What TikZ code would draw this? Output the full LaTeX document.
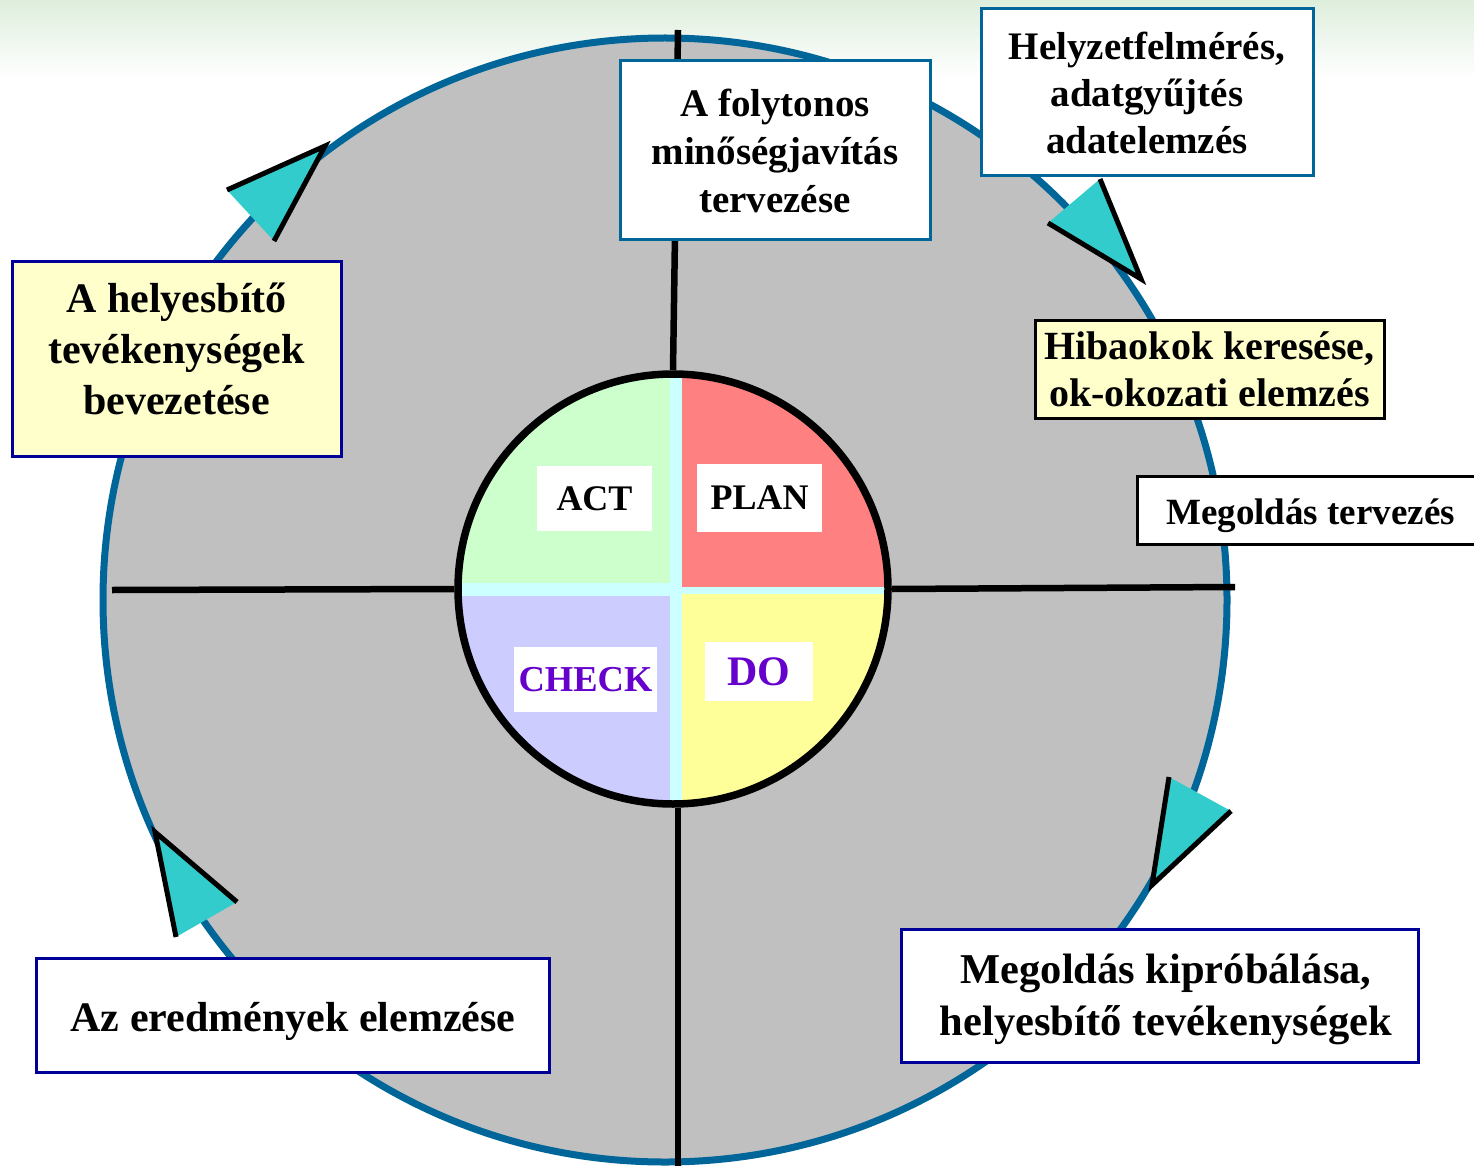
\documentclass[tikz,border=0pt]{standalone}
\usepackage{fontspec}
\setmainfont{Liberation Serif}
\definecolor{blueline}{RGB}{0,102,153}
\definecolor{navy}{RGB}{0,0,153}
\definecolor{trifill}{RGB}{51,204,204}
\definecolor{disc}{RGB}{192,192,192}
\definecolor{lyellow}{RGB}{255,255,204}
\definecolor{actc}{RGB}{204,255,204}
\definecolor{planc}{RGB}{255,128,128}
\definecolor{checkc}{RGB}{204,204,255}
\definecolor{doc}{RGB}{255,255,153}
\definecolor{gapc}{RGB}{204,255,255}
\definecolor{purp}{RGB}{102,0,204}
\definecolor{topgreen}{RGB}{222,238,220}
\begin{document}
\begin{tikzpicture}[x=1pt,y=-1pt,
  tbox/.style={draw, line width=3pt, inner sep=0pt, align=center},
  ttext/.style={inner sep=0pt, align=center},
  lbl/.style={fill=white, inner sep=0pt},
  tri/.style={fill=trifill},
  triedge/.style={draw=black, line width=5pt, line join=miter, line cap=butt},
  crossline/.style={draw=black, line width=6.5pt}]
\useasboundingbox (0,0) rectangle (1474,1166);
% faint green band at top
\shade[top color=topgreen, bottom color=white] (0,0) rectangle (1474,78);
% big disc
\filldraw[fill=disc, draw=blueline, line width=7pt] (665,600) circle[radius=562pt];
% inner PDCA fills
\begin{scope}
  \clip (673,589) circle[radius=213pt];
  \fill[gapc] (440,360) rectangle (910,820);
  \fill[actc] (440,360) rectangle (670,583);
  \fill[planc] (682,360) rectangle (910,587);
  \fill[checkc] (440,596) rectangle (670,820);
  \fill[doc] (682,594) rectangle (910,820);
\end{scope}
\node[circle, draw=black, line width=7.5pt, minimum size=430pt, inner sep=0pt] (pdca) at (673,589) {};
% cross line end points
\coordinate (ctop) at (678,30);
\coordinate (cbot) at (678,1175);
\coordinate (cleft) at (112,590);
\coordinate (cright) at (1235,587);
\draw[crossline] (ctop) -- (pdca.north);
\draw[crossline] (pdca.south -| cbot) -- (cbot);
\draw[crossline] (cleft) -- (pdca.west);
\draw[crossline] (pdca.east) -- (cright);
% quadrant labels
\node[lbl, minimum width=115pt, minimum height=65pt, font={\bfseries\fontsize{36}{40}\selectfont}] (act) at (594.5,498.5) {ACT};
\node[lbl, minimum width=125pt, minimum height=68pt, font={\bfseries\fontsize{36}{40}\selectfont}] (plan) at (759.5,498) {PLAN};
\node[lbl, minimum width=143pt, minimum height=65pt, text=purp, font={\bfseries\fontsize{36.5}{40}\selectfont}] (check) at (585.5,679.5) {CHECK};
\node[lbl, minimum width=108pt, minimum height=59pt, text=purp, font={\bfseries\fontsize{42}{44}\selectfont}] (do) at (759,671.5) {DO};
% arrow triangles
\fill[tri] (227,190) -- (325,146) -- (274,241) -- cycle;
\draw[triedge] (227,190) -- (325,146) -- (274,241);
\fill[tri] (1048,223) -- (1100,179) -- (1141,279) -- cycle;
\draw[triedge] (1100,179) -- (1141,279) -- (1048,223);
\fill[tri] (1169,777) -- (1231,811) -- (1152,885) -- cycle;
\draw[triedge] (1169,777) -- (1152,885) -- (1231,811);
\fill[tri] (155,832) -- (237,902) -- (176,937) -- cycle;
\draw[triedge] (237,902) -- (155,832) -- (176,937);
% text boxes
\node[tbox, draw=blueline, fill=white, minimum width=310pt, minimum height=179pt, font={\bfseries\fontsize{39}{48}\selectfont}] (b1) at (775,150.5) {A folytonos\\minőségjavítás\\tervezése};
\node[tbox, draw=blueline, fill=white, minimum width=332pt, minimum height=167pt, font={\bfseries\fontsize{39}{47}\selectfont}] (b2) at (1147,92.5) {Helyzetfelmérés,\\adatgyűjtés\\adatelemzés};
\node[tbox, draw=navy, fill=lyellow, minimum width=329pt, minimum height=194pt] (b3) at (176.5,359) {};
\node[ttext, font={\bfseries\fontsize{42}{51}\selectfont}] (b3t) at (176.5,349) {A helyesbítő\\tevékenységek\\bevezetése};
\node[tbox, draw=black, fill=lyellow, minimum width=349pt, minimum height=98pt, font={\bfseries\fontsize{40}{47}\selectfont}] (b4) at (1209.5,369) {Hibaokok keresése,\\ok-okozati elemzés};
\node[tbox, draw=black, fill=white, minimum width=353pt, minimum height=68pt] (b5) at (1313.5,510) {};
\node[ttext, font={\bfseries\fontsize{37}{44}\selectfont}] (b5t) at (1310.5,516) {Megoldás tervezés};
\node[tbox, draw=navy, fill=white, minimum width=513pt, minimum height=114pt] (b6) at (292.5,1015) {};
\node[ttext, font={\bfseries\fontsize{42}{50}\selectfont}] (b6t) at (293,1021) {Az eredmények elemzése};
\node[tbox, draw=navy, fill=white, minimum width=517pt, minimum height=133pt] (b7) at (1159.5,995.5) {};
\node[ttext, font={\bfseries\fontsize{42.5}{52}\selectfont}] (b7t) at (1166,999.5) {Megoldás kipróbálása,\\helyesbítő tevékenységek};
\end{tikzpicture}
\end{document}
